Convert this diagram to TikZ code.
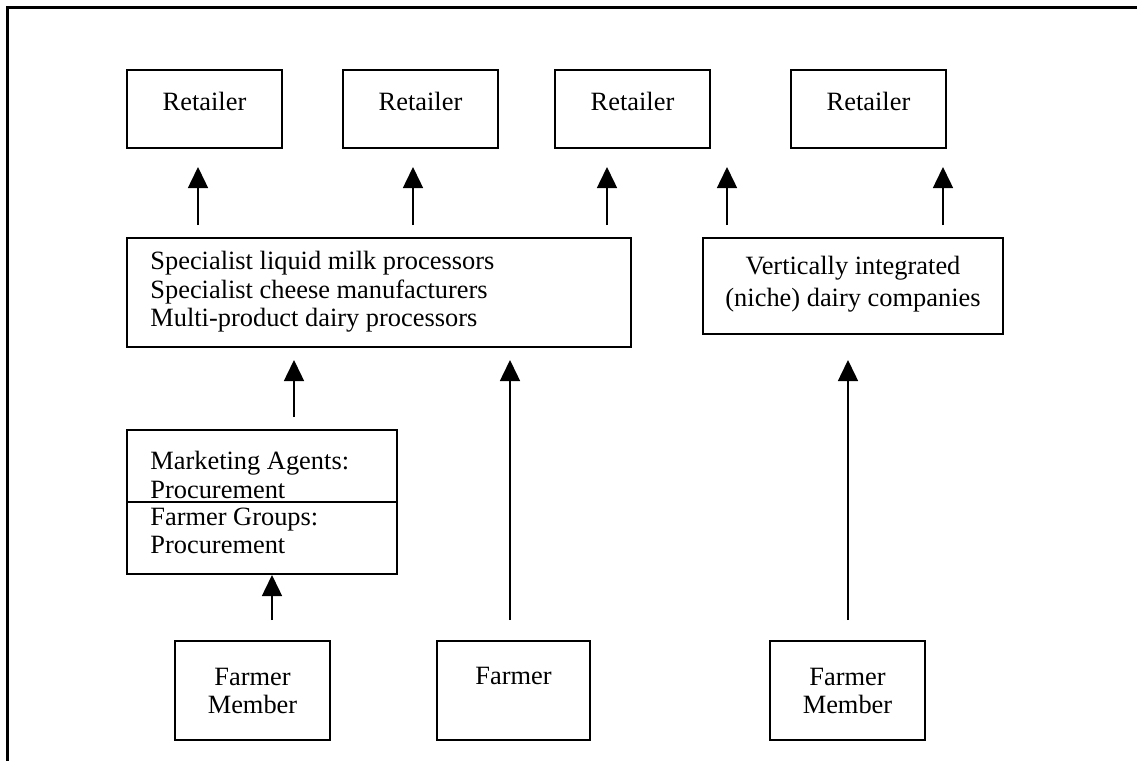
\documentclass[tikz,border=0pt]{standalone}
\usepackage{fontspec}
\setmainfont{Liberation Serif}
\usetikzlibrary{arrows.meta}
\begin{document}
\begin{tikzpicture}[x=0.5pt,y=-0.5pt,
  frameline/.style={line width=1.5pt},
  box/.style={draw, line width=0.75pt, rectangle, inner sep=0pt},
  lbl/.style={font=\fontsize{13.2}{14.3}\selectfont, inner sep=0pt, align=center},
  flow/.style={line width=0.75pt, -{Triangle[width=10pt,length=10.5pt]}}]
\useasboundingbox (0,0) rectangle (1137,761);

% outer frame (top and left edges only)
\draw[frameline] (7,761) -- (7,7) -- (1137,7);

% retailers
\foreach \n/\x in {r1/204.5, r2/420.5, r3/632.5, r4/868.5}{
  \node[box, minimum width=77.5pt, minimum height=39pt] (\n) at (\x,109) {};
  \node[lbl] (\n t) at (\x,101) {Retailer};
}

% processors
\node[box, minimum width=252pt, minimum height=54.5pt] (proc) at (379,292.5) {};
\node[lbl, align=left, anchor=west] (proct) at (150,292)
  {Specialist liquid milk processors\\Specialist cheese manufacturers\\Multi-product dairy processors};

% vertically integrated companies
\node[box, minimum width=150pt, minimum height=48pt] (vert) at (853,286) {};
\node[lbl, font=\fontsize{13.2}{16}\selectfont] (vertt) at (853,284)
  {Vertically integrated\\(niche) dairy companies};

% marketing agents / farmer groups
\node[box, minimum width=135pt, minimum height=72pt] (mkt) at (262,502) {};
\draw[line width=0.75pt] (mkt.west) -- (mkt.east);
\node[lbl, align=left, anchor=west] (mktt) at (150,475) {Marketing Agents:\\Procurement};
\node[lbl, align=left, anchor=west] (grpt) at (150,531) {Farmer Groups:\\Procurement};

% farmers
\node[box, minimum width=77.5pt, minimum height=49.5pt] (f1) at (252.5,690.5) {};
\node[lbl] (f1t) at (252.5,691) {Farmer\\Member};
\node[box, minimum width=76.5pt, minimum height=49.5pt] (f2) at (513.5,690.5) {};
\node[lbl] (f2t) at (513.5,676) {Farmer};
\node[box, minimum width=77.5pt, minimum height=49.5pt] (f3) at (847.5,690.5) {};
\node[lbl] (f3t) at (847.5,691) {Farmer\\Member};

% arrow end points
\foreach \i/\x in {1/198, 2/413, 3/607, 4/727, 5/943}{
  \coordinate (u\i s) at (\x,225);
  \coordinate (u\i e) at (\x,167);
}
\coordinate (m1s) at (294,417);  \coordinate (m1e) at (294,360);
\coordinate (m2s) at (510,620);  \coordinate (m2e) at (510,360);
\coordinate (m3s) at (848,620);  \coordinate (m3e) at (848,360);
\coordinate (g1s) at (272,620);  \coordinate (g1e) at (272,575);

% flows
\foreach \i in {1,...,5}{ \draw[flow] (u\i s) -- (u\i e); }
\draw[flow] (m1s) -- (m1e);
\draw[flow] (m2s) -- (m2e);
\draw[flow] (m3s) -- (m3e);
\draw[flow] (g1s) -- (g1e);
\end{tikzpicture}
\end{document}
